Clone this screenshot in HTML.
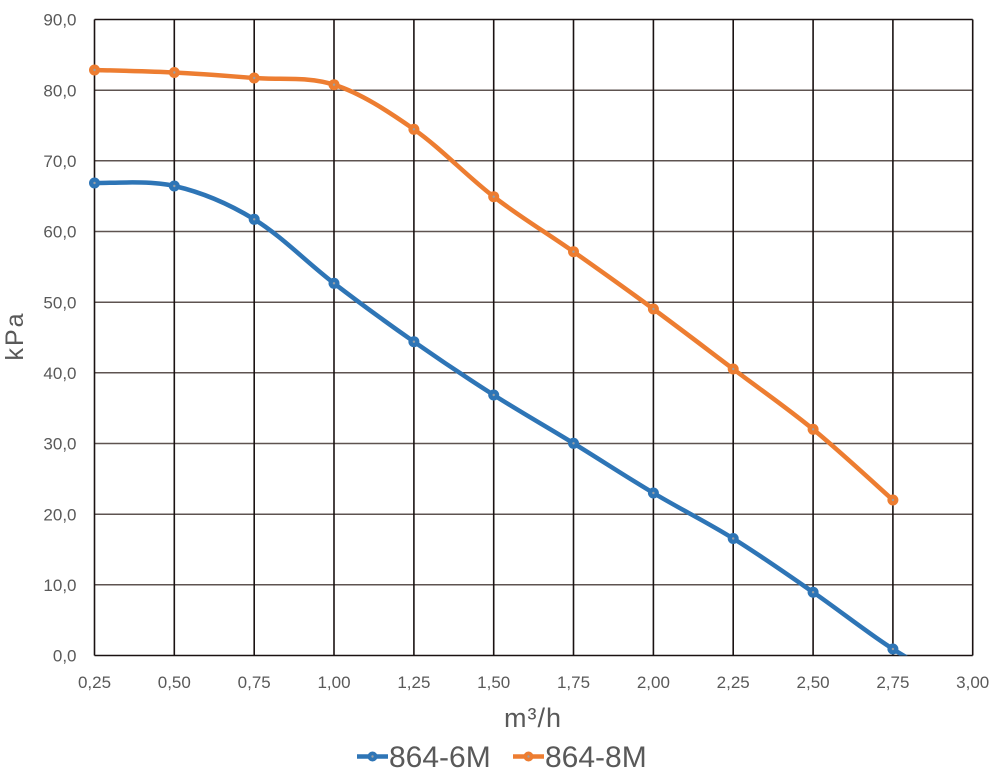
<!DOCTYPE html>
<html><head><meta charset="utf-8"><style>
html,body{margin:0;padding:0;background:#fff;}
svg{display:block;}
text{font-family:"Liberation Sans",sans-serif;fill:#595959;}
</style></head><body>
<svg width="1000" height="774" viewBox="0 0 1000 774" xmlns="http://www.w3.org/2000/svg">
<defs><clipPath id="pa"><rect x="94.5" y="19.5" width="878.2" height="636"/></clipPath></defs>
<rect width="1000" height="774" fill="#fff"/>
<g stroke="#5e5350" stroke-width="1.5">
<line x1="94.5" x2="972.7" y1="90.2" y2="90.2"/>
<line x1="94.5" x2="972.7" y1="160.8" y2="160.8"/>
<line x1="94.5" x2="972.7" y1="231.5" y2="231.5"/>
<line x1="94.5" x2="972.7" y1="302.2" y2="302.2"/>
<line x1="94.5" x2="972.7" y1="372.8" y2="372.8"/>
<line x1="94.5" x2="972.7" y1="443.5" y2="443.5"/>
<line x1="94.5" x2="972.7" y1="514.2" y2="514.2"/>
<line x1="94.5" x2="972.7" y1="584.8" y2="584.8"/>
</g>
<g stroke="#1a1212" stroke-width="1.6">
<line x1="94.5" x2="972.7" y1="19.5" y2="19.5"/>
<line x1="94.5" x2="972.7" y1="655.5" y2="655.5"/>
<line x1="94.5" x2="94.5" y1="19.5" y2="655.5"/>
<line x1="174.3" x2="174.3" y1="19.5" y2="655.5"/>
<line x1="254.2" x2="254.2" y1="19.5" y2="655.5"/>
<line x1="334.0" x2="334.0" y1="19.5" y2="655.5"/>
<line x1="413.9" x2="413.9" y1="19.5" y2="655.5"/>
<line x1="493.7" x2="493.7" y1="19.5" y2="655.5"/>
<line x1="573.5" x2="573.5" y1="19.5" y2="655.5"/>
<line x1="653.4" x2="653.4" y1="19.5" y2="655.5"/>
<line x1="733.2" x2="733.2" y1="19.5" y2="655.5"/>
<line x1="813.1" x2="813.1" y1="19.5" y2="655.5"/>
<line x1="892.9" x2="892.9" y1="19.5" y2="655.5"/>
<line x1="972.7" x2="972.7" y1="19.5" y2="655.5"/>
</g>
<g font-size="17" text-anchor="end">
<text x="76.5" y="25.6">90,0</text>
<text x="76.5" y="96.3">80,0</text>
<text x="76.5" y="166.9">70,0</text>
<text x="76.5" y="237.6">60,0</text>
<text x="76.5" y="308.3">50,0</text>
<text x="76.5" y="378.9">40,0</text>
<text x="76.5" y="449.6">30,0</text>
<text x="76.5" y="520.3">20,0</text>
<text x="76.5" y="590.9">10,0</text>
<text x="76.5" y="661.6">0,0</text>
</g>
<g font-size="17" text-anchor="middle">
<text x="94.5" y="688">0,25</text>
<text x="174.3" y="688">0,50</text>
<text x="254.2" y="688">0,75</text>
<text x="334.0" y="688">1,00</text>
<text x="413.9" y="688">1,25</text>
<text x="493.7" y="688">1,50</text>
<text x="573.5" y="688">1,75</text>
<text x="653.4" y="688">2,00</text>
<text x="733.2" y="688">2,25</text>
<text x="813.1" y="688">2,50</text>
<text x="892.9" y="688">2,75</text>
<text x="972.7" y="688">3,00</text>
</g>
<text x="533" y="727" font-size="27" text-anchor="middle" letter-spacing="1">m³/h</text>
<text transform="translate(23,336) rotate(-90)" font-size="25" text-anchor="middle" letter-spacing="2">kPa</text>
<g clip-path="url(#pa)" fill="none" stroke-width="4.5" stroke-linejoin="round" stroke-linecap="round">
<path stroke="#2e75b6" d="M94.5 183 C107.8 183.5,147.7 179.95,174.3 186 C200.9 192.05,227.6 203.08,254.2 219.3 C280.8 235.52,307.4 262.9,334.0 283.3 C360.6 303.7,387.3 323.08,413.9 341.7 C440.5 360.32,467.1 378.07,493.7 395 C520.3 411.93,546.9 426.97,573.5 443.3 C600.1 459.63,626.8 477.13,653.4 493 C680.0 508.87,706.6 521.97,733.2 538.5 C759.8 555.03,786.5 573.78,813.1 592.2 C839.7 610.62,866.3 631.97,892.9 649 C919.5 666.03,959.4 686.83,972.7 694.4"/>
<path stroke="#ed7d31" d="M94.5 70 C107.8 70.42,147.7 71.17,174.3 72.5 C200.9 73.83,227.6 75.97,254.2 78 C280.8 80.03,307.4 76.15,334.0 84.7 C360.6 93.25,387.3 110.63,413.9 129.3 C440.5 147.97,467.1 176.3,493.7 196.7 C520.3 217.1,546.9 232.98,573.5 251.7 C600.1 270.42,626.8 289.45,653.4 309 C680.0 328.55,706.6 348.95,733.2 369 C759.8 389.05,786.5 407.47,813.1 429.3 C839.7 451.13,879.6 488.22,892.9 500"/>
</g>
<g fill="#2e75b6">
<circle cx="94.5" cy="183" r="5.5"/><circle cx="174.3" cy="186" r="5.5"/><circle cx="254.2" cy="219.3" r="5.5"/><circle cx="334.0" cy="283.3" r="5.5"/><circle cx="413.9" cy="341.7" r="5.5"/><circle cx="493.7" cy="395" r="5.5"/><circle cx="573.5" cy="443.3" r="5.5"/><circle cx="653.4" cy="493" r="5.5"/><circle cx="733.2" cy="538.5" r="5.5"/><circle cx="813.1" cy="592.2" r="5.5"/><circle cx="892.9" cy="649" r="5.5"/>
</g>
<g fill="#ed7d31">
<circle cx="94.5" cy="70" r="5.5"/><circle cx="174.3" cy="72.5" r="5.5"/><circle cx="254.2" cy="78" r="5.5"/><circle cx="334.0" cy="84.7" r="5.5"/><circle cx="413.9" cy="129.3" r="5.5"/><circle cx="493.7" cy="196.7" r="5.5"/><circle cx="573.5" cy="251.7" r="5.5"/><circle cx="653.4" cy="309" r="5.5"/><circle cx="733.2" cy="369" r="5.5"/><circle cx="813.1" cy="429.3" r="5.5"/><circle cx="892.9" cy="500" r="5.5"/>
</g>
<g fill="#9aa0a6">
<circle cx="94.5" cy="183" r="1.2"/><circle cx="174.3" cy="186" r="1.2"/><circle cx="254.2" cy="219.3" r="1.2"/><circle cx="334.0" cy="283.3" r="1.2"/><circle cx="413.9" cy="341.7" r="1.2"/><circle cx="493.7" cy="395" r="1.2"/><circle cx="573.5" cy="443.3" r="1.2"/><circle cx="653.4" cy="493" r="1.2"/><circle cx="733.2" cy="538.5" r="1.2"/><circle cx="813.1" cy="592.2" r="1.2"/><circle cx="892.9" cy="649" r="1.2"/>
<circle cx="94.5" cy="70" r="1.2"/><circle cx="174.3" cy="72.5" r="1.2"/><circle cx="254.2" cy="78" r="1.2"/><circle cx="334.0" cy="84.7" r="1.2"/><circle cx="413.9" cy="129.3" r="1.2"/><circle cx="493.7" cy="196.7" r="1.2"/><circle cx="573.5" cy="251.7" r="1.2"/><circle cx="653.4" cy="309" r="1.2"/><circle cx="733.2" cy="369" r="1.2"/><circle cx="813.1" cy="429.3" r="1.2"/><circle cx="892.9" cy="500" r="1.2"/>
</g>
<line x1="357" x2="388" y1="756.5" y2="756.5" stroke="#2e75b6" stroke-width="4.5"/>
<circle cx="372.5" cy="756.5" r="5" fill="#2e75b6"/>
<circle cx="372.5" cy="756.5" r="1.2" fill="#9aa0a6"/>
<text x="389" y="767" font-size="30">864-6M</text>
<line x1="513" x2="544" y1="756.5" y2="756.5" stroke="#ed7d31" stroke-width="4.5"/>
<circle cx="528.5" cy="756.5" r="5" fill="#ed7d31"/>
<circle cx="528.5" cy="756.5" r="1.2" fill="#9aa0a6"/>
<text x="545" y="767" font-size="30">864-8M</text>
</svg>
</body></html>
